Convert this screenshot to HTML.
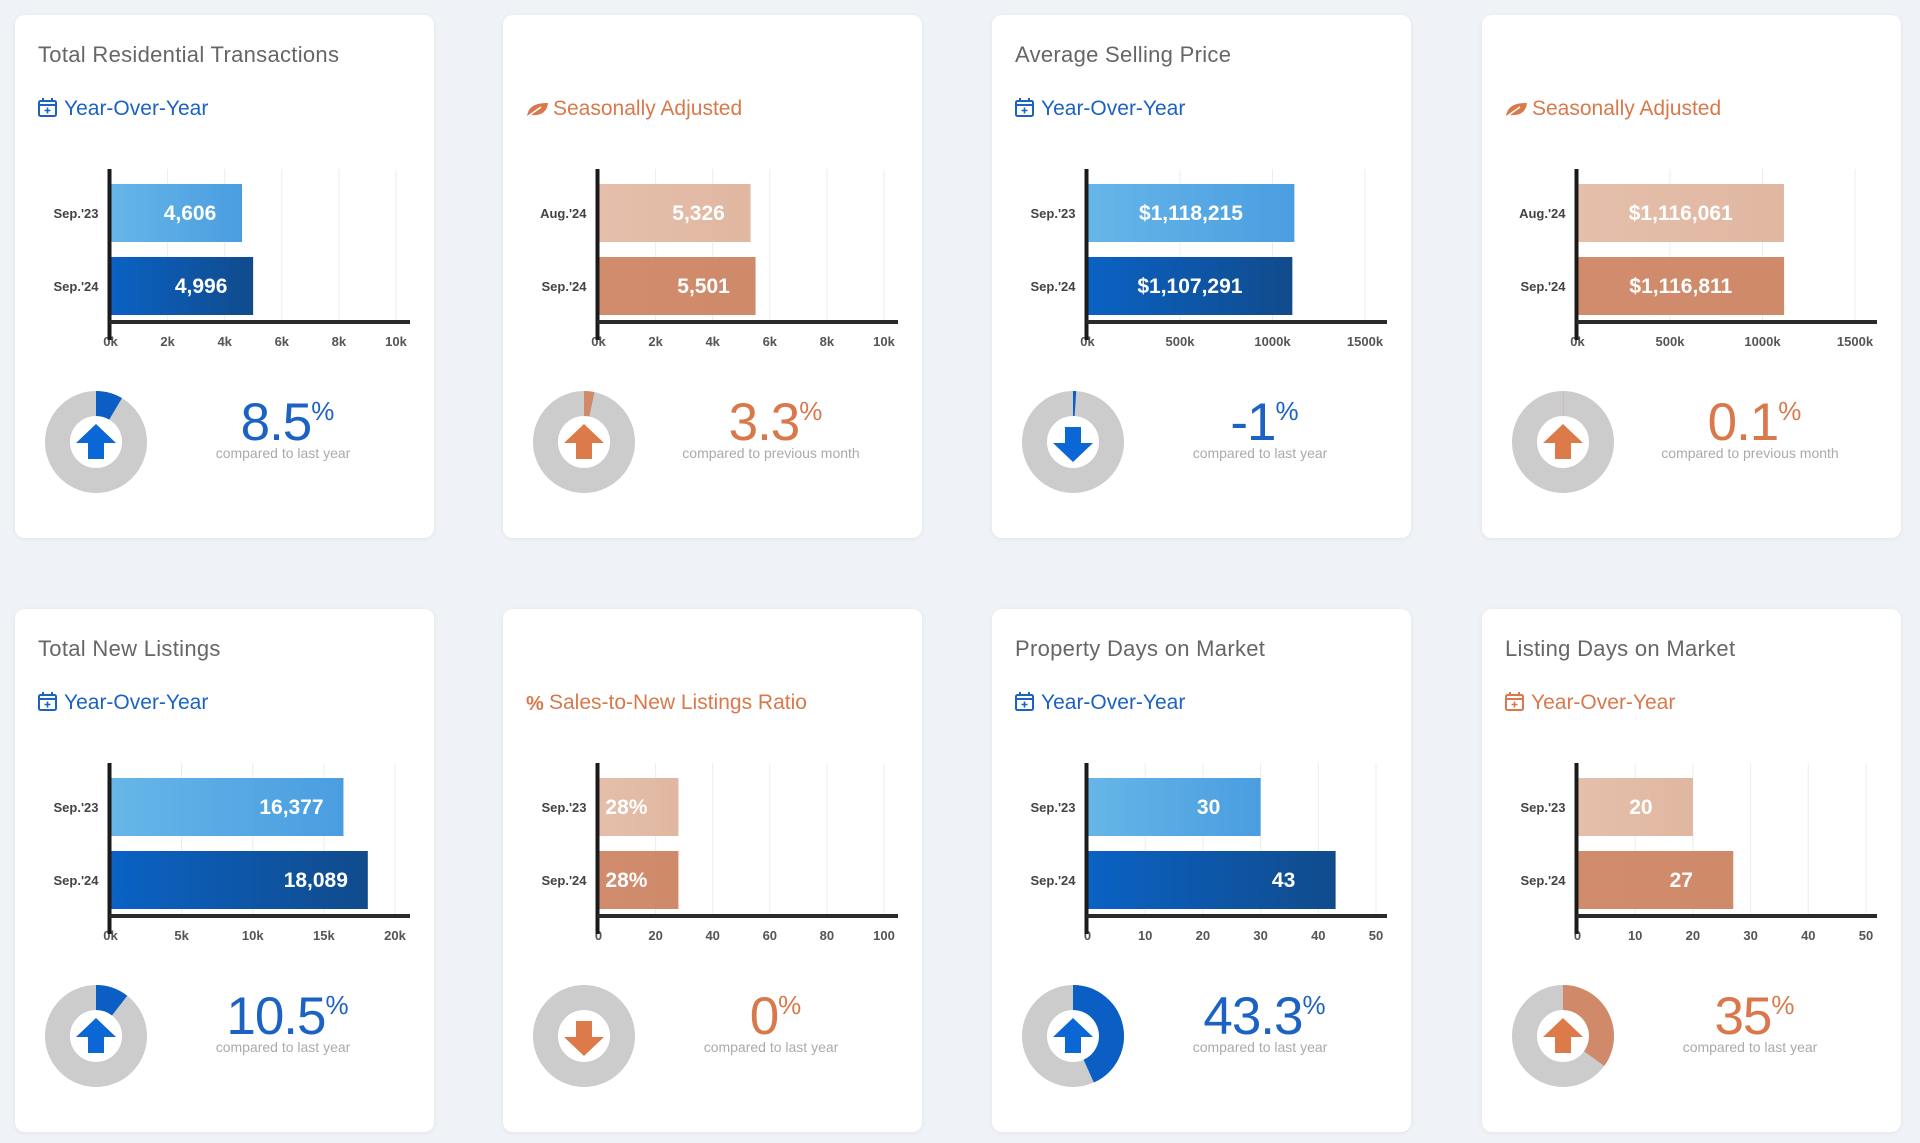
<!DOCTYPE html>
<html><head><meta charset="utf-8"><style>
html,body{margin:0;padding:0;background:#eff2f6;}
svg{display:block;font-family:"Liberation Sans",sans-serif;}
</style></head><body>
<svg id="dash" width="1920" height="1143" viewBox="0 0 1920 1143" xmlns="http://www.w3.org/2000/svg">
<defs>
<linearGradient id="gBlueL" x1="0" x2="1"><stop offset="0" stop-color="#66b6e8"/><stop offset="1" stop-color="#4a9de0"/></linearGradient>
<linearGradient id="gBlueD" x1="0" x2="1"><stop offset="0" stop-color="#0a62c4"/><stop offset="1" stop-color="#114b8c"/></linearGradient>
<linearGradient id="gOrL" x1="0" x2="1"><stop offset="0" stop-color="#e5bfab"/><stop offset="1" stop-color="#e0b7a1"/></linearGradient>
<linearGradient id="gOrD" x1="0" x2="1"><stop offset="0" stop-color="#d08c6d"/><stop offset="1" stop-color="#cf8a6a"/></linearGradient>
<filter id="sh" x="-5%" y="-5%" width="110%" height="110%"><feDropShadow dx="0" dy="1" stdDeviation="2" flood-color="#000" flood-opacity="0.06"/></filter>
</defs>
</svg>
<script>
const titles = ["Total Residential Transactions","","Average Selling Price","","Total New Listings","","Property Days on Market","Listing Days on Market"];
const subtitles = ["Year-Over-Year","Seasonally Adjusted","Year-Over-Year","Seasonally Adjusted","Year-Over-Year","Sales-to-New Listings Ratio","Year-Over-Year","Year-Over-Year"];
const subIcons = ["cal","leaf","cal","leaf","cal","pct","cal","cal"];
const themes = ["blue","orange","blue","orange","blue","orange","blue","orange"];
const categoriesA = ["Sep.'23","Aug.'24","Sep.'23","Aug.'24","Sep.'23","Sep.'23","Sep.'23","Sep.'23"];
const categoriesB = ["Sep.'24","Sep.'24","Sep.'24","Sep.'24","Sep.'24","Sep.'24","Sep.'24","Sep.'24"];
const valuesA = [4606,5326,1118215,1116061,16377,28,30,20];
const valuesB = [4996,5501,1107291,1116811,18089,28,43,27];
const labelsA = ["4,606","5,326","$1,118,215","$1,116,061","16,377","28%","30","20"];
const labelsB = ["4,996","5,501","$1,107,291","$1,116,811","18,089","28%","43","27"];
const tickValues = [[0,2000,4000,6000,8000,10000],[0,2000,4000,6000,8000,10000],[0,500000,1000000,1500000],[0,500000,1000000,1500000],[0,5000,10000,15000,20000],[0,20,40,60,80,100],[0,10,20,30,40,50],[0,10,20,30,40,50]];
const tickLabels = [["0k","2k","4k","6k","8k","10k"],["0k","2k","4k","6k","8k","10k"],["0k","500k","1000k","1500k"],["0k","500k","1000k","1500k"],["0k","5k","10k","15k","20k"],["0","20","40","60","80","100"],["0","10","20","30","40","50"],["0","10","20","30","40","50"]];
const pctValues = [8.5,3.3,-1,0.1,10.5,0,43.3,35];
const pctTexts = ["8.5","3.3","-1","0.1","10.5","0","43.3","35"];
const captions = ["compared to last year","compared to previous month","compared to last year","compared to previous month","compared to last year","compared to last year","compared to last year","compared to last year"];

const NS="http://www.w3.org/2000/svg";
const svg=document.getElementById('dash');
function mk(tag,attrs,parent){const e=document.createElementNS(NS,tag);for(const k in attrs)e.setAttribute(k,attrs[k]);(parent||svg).appendChild(e);return e;}
const colLeft=[15,503,992,1482], rowTop=[15,609], cardW=419, cardH=523;
const maxTickX={0:381,1:381,2:373,3:373,4:380,5:381,6:384,7:384};

titles.forEach((t,i)=>{
  const cx=colLeft[i%4], cy=rowTop[Math.floor(i/4)];
  const blue=themes[i]==="blue";
  const accent=blue?"#1c62c2":"#d9794b";
  const g=mk('g',{transform:`translate(${cx},${cy})`});
  
  
  mk('rect',{x:0,y:0,width:cardW,height:cardH,rx:10,fill:'#fff',filter:'url(#sh)'},g);
  if(t){const tt=mk('text',{x:23,y:47,'font-size':22,fill:'#666','font-weight':300,'letter-spacing':'0.3'},g);tt.textContent=t;
    }
  const ic=mk('g',{transform:'translate(23,83)'},g);
  
  let tx=50;
  if(subIcons[i]==="cal"){
    mk('rect',{x:1,y:3,width:17,height:15,rx:1.5,fill:'none',stroke:accent,'stroke-width':2},ic);
    mk('line',{x1:1,y1:7,x2:18,y2:7,stroke:accent,'stroke-width':2},ic);
    mk('line',{x1:5,y1:0,x2:5,y2:4,stroke:accent,'stroke-width':2},ic);
    mk('line',{x1:14,y1:0,x2:14,y2:4,stroke:accent,'stroke-width':2},ic);
    mk('path',{d:'M9.5 9.5v6M6.5 12.5h6',stroke:accent,'stroke-width':1.6},ic);
    tx=49;
  } else if(subIcons[i]==="leaf"){
    mk('path',{d:'M1 19 C2 8 10 5 22 5 C21 14 15 18 5 17 Z',fill:accent},ic);
    mk('path',{d:'M1 19 L15 9',stroke:'#fff','stroke-width':1.5},ic);
    tx=50;
  } else {
    const p=mk('text',{x:0,y:18,'font-size':20,'font-weight':'bold',fill:accent},ic);p.textContent='%';tx=46;
  }
  const st=mk('text',{x:tx,y:100,'font-size':21,fill:accent,'font-weight':300},g);
  st.textContent=subtitles[i];
  
  const x0=95.5, ticks=tickValues[i], tmax=ticks[ticks.length-1];
  const xs=v=>x0+(v/tmax)*(maxTickX[i]-x0);
  const ch=mk('g',{},g);
  ticks.forEach((tv,k)=>{
    if(k>0){const gl=mk('line',{x1:xs(tv),y1:154,x2:xs(tv),y2:305,stroke:'#ececec','stroke-width':1},ch);
      }
    const tl=mk('text',{x:xs(tv),y:331,'font-size':13,'font-weight':'bold',fill:'#555','text-anchor':'middle'},ch);
    tl.textContent=tickLabels[i][k];
    
  });
  const bars=[[valuesA[i],labelsA[i],categoriesA[i],169,blue?'url(#gBlueL)':'url(#gOrL)'],[valuesB[i],labelsB[i],categoriesB[i],242,blue?'url(#gBlueD)':'url(#gOrD)']];
  bars.forEach(([v,lab,cat,by,fill],k)=>{
    const w=xs(v)-x0, end=x0+w;
    const r=mk('rect',{x:x0,y:by,width:w,height:58,fill:fill},ch);
    
    const tw=lab.length*11.6;
    let lx=end-52;
    if(lx+tw/2>end-8) lx=x0+w/2;
    const vl=mk('text',{x:lx,y:by+36,'font-size':21,'font-weight':'bold',fill:'#fff','text-anchor':'middle'},ch);
    vl.textContent=lab;
    const cl=mk('text',{x:x0-12,y:by+34,'font-size':13,'font-weight':'bold',fill:'#444','text-anchor':'end'},ch);
    cl.textContent=cat;
  });
  const ya=mk('line',{x1:x0-1,y1:154,x2:x0-1,y2:325,stroke:'#1a1a1a','stroke-width':4},ch);
  
  const xa=mk('line',{x1:x0-1,y1:307,x2:395,y2:307,stroke:'#2a2a2a','stroke-width':4},ch);
  
  const dcx=81, dcy=427, R=51, rin=26, rm=(R+rin)/2;
  const dn=mk('g',{},g);
  mk('circle',{cx:dcx,cy:dcy,r:rm,fill:'none',stroke:'#cccccc','stroke-width':R-rin},dn);
  const frac=Math.min(Math.abs(pctValues[i])/100,0.999);
  if(frac>0){
    const a=frac*2*Math.PI, ex=dcx+rm*Math.sin(a), ey=dcy-rm*Math.cos(a);
    const arc=mk('path',{d:`M${dcx} ${dcy-rm} A${rm} ${rm} 0 ${frac>0.5?1:0} 1 ${ex} ${ey}`,fill:'none',stroke:blue?'#0b5fc4':'#d08a6a','stroke-width':R-rin},dn);
    
  }
  const ac=blue?'#0b66d6':'#dd7a4a';
  const up=pctValues[i]>0;
  const arrowPts=up?[[0,-18],[20,1],[8,1],[8,17],[-8,17],[-8,1],[-20,1]]:[[0,20],[20,1],[8,1],[8,-15],[-8,-15],[-8,1],[-20,1]];
  const ar=mk('polygon',{points:arrowPts.map(p=>(dcx+p[0])+','+(dcy+p[1])).join(' '),fill:ac},dn);
  
  const pt=mk('text',{x:272,y:425,'font-size':53,'font-weight':300,fill:accent,'text-anchor':'middle','letter-spacing':'-1'},g);
  
  const t1=mk('tspan',{},pt);t1.textContent=pctTexts[i];
  const t2=mk('tspan',{'font-size':26,dy:-20},pt);t2.textContent='%';
  const cp=mk('text',{x:268,y:443,'font-size':14,fill:'#aaa','text-anchor':'middle','font-weight':300},g);
  cp.textContent=captions[i];
});
</script>
</body></html>
